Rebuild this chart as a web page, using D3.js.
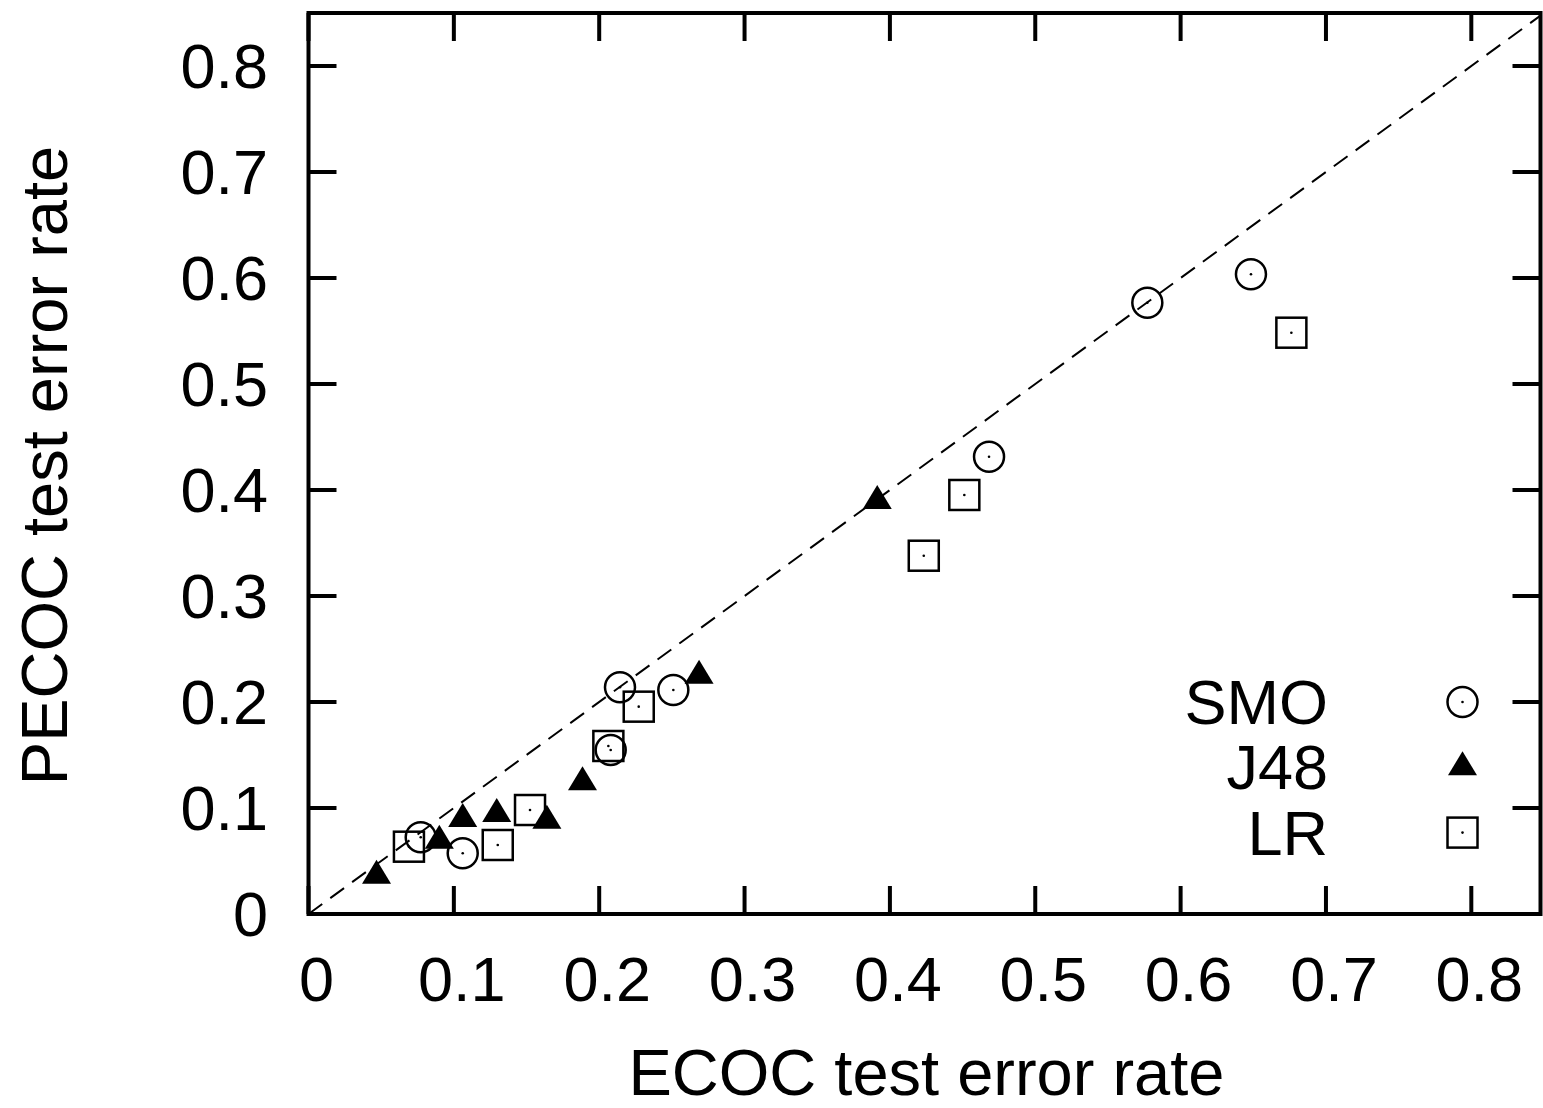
<!DOCTYPE html>
<meta charset="utf-8">
<script src="https://d3js.org/d3.v7.min.js"></script>
<style>
  body { margin: 0; background: #fff; }
  text { font-family: "Liberation Sans", Arial, sans-serif; fill: #000; }
</style>
<body>
<script>
// data
var series = ["SMO", "J48", "LR"];
var smoX = [0.0772, 0.1061, 0.2079, 0.2143, 0.2510, 0.4682, 0.5771, 0.6484];
var smoY = [0.0724, 0.0573, 0.1547, 0.2139, 0.2113, 0.4314, 0.5767, 0.6035];
var j48X = [0.0468, 0.0900, 0.1061, 0.1295, 0.1640, 0.1885, 0.2687, 0.3913];
var j48Y = [0.0361, 0.0692, 0.0896, 0.0943, 0.0880, 0.1242, 0.2248, 0.3896];
var lrX  = [0.0691, 0.1302, 0.1524, 0.2063, 0.2272, 0.4233, 0.4512, 0.6762];
var lrY  = [0.0635, 0.0651, 0.0981, 0.1585, 0.1956, 0.3380, 0.3953, 0.5484];
var xTicks = [0, 0.1, 0.2, 0.3, 0.4, 0.5, 0.6, 0.7, 0.8];
var yTicks = [0, 0.1, 0.2, 0.3, 0.4, 0.5, 0.6, 0.7, 0.8];

var W = 1543, H = 1108;
var pL = 308.5, pR = 1540.5, pT = 13, pB = 914;

var svg = d3.select("body").append("svg")
  .attr("width", W).attr("height", H);
svg.append("rect").attr("width", W).attr("height", H).attr("fill", "#fff");

var x = d3.scaleLinear().domain([0, 0.8476]).range([pL, pR]);
var y = d3.scaleLinear().domain([0, 0.85]).range([pB, pT]);
var fmt = function(d) { return d === 0 ? "0" : d3.format(".1f")(d); };
var tickLen = 28;

// ticks on all four sides, pointing inward
var axes = svg.append("g").attr("stroke", "#000").attr("stroke-width", 4);
xTicks.forEach(function(t) {
  axes.append("line").attr("x1", x(t)).attr("x2", x(t)).attr("y1", pB).attr("y2", pB - tickLen);
  axes.append("line").attr("x1", x(t)).attr("x2", x(t)).attr("y1", pT).attr("y2", pT + tickLen);
});
yTicks.forEach(function(t) {
  axes.append("line").attr("y1", y(t)).attr("y2", y(t)).attr("x1", pL).attr("x2", pL + tickLen);
  axes.append("line").attr("y1", y(t)).attr("y2", y(t)).attr("x1", pR).attr("x2", pR - tickLen);
});

svg.selectAll(".xl").data(xTicks).enter().append("text")
  .attr("x", d => x(d) + 8).attr("y", 1001)
  .attr("text-anchor", "middle").style("font-size", "63px")
  .text(fmt);
svg.selectAll(".yl").data(yTicks).enter().append("text")
  .attr("x", 268).attr("y", d => y(d) + 22)
  .attr("text-anchor", "end").style("font-size", "63px")
  .text(fmt);

// y = x reference line
svg.append("clipPath").attr("id", "plotclip").append("rect")
  .attr("x", pL).attr("y", pT).attr("width", pR - pL).attr("height", pB - pT);
var xm = x.domain()[1];
svg.append("line")
  .attr("clip-path", "url(#plotclip)")
  .attr("x1", x(0)).attr("y1", y(0)).attr("x2", x(xm)).attr("y2", y(xm))
  .attr("stroke", "#000").attr("stroke-width", 2).attr("stroke-dasharray", "17,10");

// point symbols
function drawCircle(g, cx, cy) {
  g.append("circle").attr("cx", cx).attr("cy", cy).attr("r", 15)
    .attr("fill", "none").attr("stroke", "#000").attr("stroke-width", 2.5);
  g.append("circle").attr("cx", cx).attr("cy", cy).attr("r", 1.3).attr("fill", "#000");
}
function drawTriangle(g, cx, cy) {
  g.append("path")
    .attr("d", "M" + cx + "," + (cy - 16) + "L" + (cx + 14.5) + "," + (cy + 8) + "L" + (cx - 14.5) + "," + (cy + 8) + "Z")
    .attr("fill", "#000");
}
function drawSquare(g, cx, cy) {
  g.append("rect").attr("x", cx - 15).attr("y", cy - 15).attr("width", 30).attr("height", 30)
    .attr("fill", "none").attr("stroke", "#000").attr("stroke-width", 2.5);
  g.append("circle").attr("cx", cx).attr("cy", cy).attr("r", 1.3).attr("fill", "#000");
}
var draws = [drawCircle, drawTriangle, drawSquare];
var xs = [smoX, j48X, lrX], ys = [smoY, j48Y, lrY];

var pts = svg.append("g");
series.forEach(function(s, k) {
  xs[k].forEach(function(v, i) {
    draws[k](pts, x(v), y(ys[k][i]));
  });
});

// legend
var leg = svg.append("g");
series.forEach(function(s, k) {
  var cy = 702 + k * 65.3;
  leg.append("text").attr("x", 1328).attr("y", cy + 22)
    .attr("text-anchor", "end").style("font-size", "63px").text(s);
  draws[k](leg, 1462.5, cy);
});

// frame
svg.append("rect").attr("x", pL).attr("y", pT)
  .attr("width", pR - pL).attr("height", pB - pT)
  .attr("fill", "none").attr("stroke", "#000").attr("stroke-width", 4);

// axis titles
svg.append("text").attr("x", (pL + pR) / 2 + 2).attr("y", 1095)
  .attr("text-anchor", "middle").style("font-size", "65px")
  .text("ECOC test error rate");
svg.append("text")
  .attr("transform", "translate(67," + ((pT + pB) / 2 + 2) + ") rotate(-90)")
  .attr("text-anchor", "middle").style("font-size", "65px")
  .text("PECOC test error rate");
</script>
</body>
